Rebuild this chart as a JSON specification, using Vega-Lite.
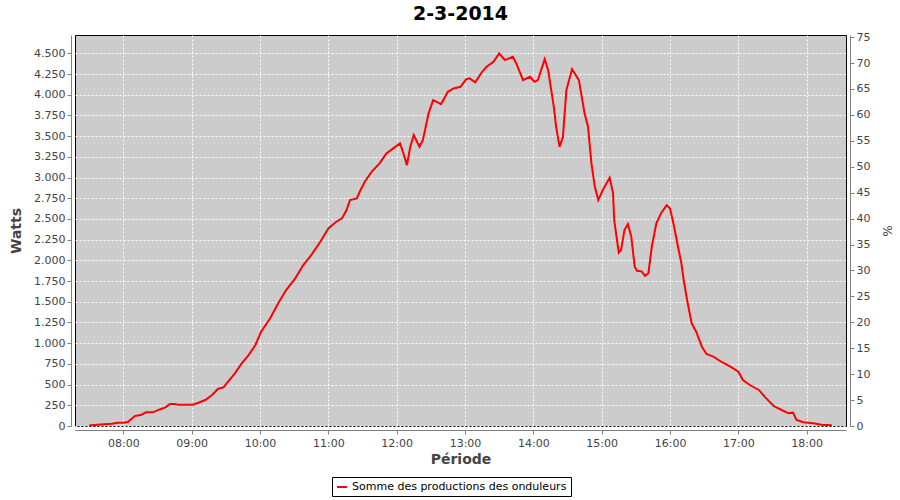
{
  "width": 771,
  "height": 391,
  "autosize": {"type": "none"},
  "padding": {"left": 75, "top": 35, "right": 54, "bottom": 74},
  "background": "white",
  "title": {"text": "2-3-2014", "font": "DejaVu Sans", "fontSize": 19, "fontWeight": "bold", "color": "black", "anchor": "middle", "offset": 7},
  "config": {
    "view": {"fill": "#cccccc", "stroke": "black", "strokeWidth": 1},
    "axis": {"labelFont": "DejaVu Sans", "labelFontSize": 11, "labelColor": "#444444", "titleFont": "DejaVu Sans", "titleColor": "#444444", "domainColor": "#808080", "tickColor": "#808080", "tickSize": 4, "gridColor": "white", "gridDash": [2, 2], "gridWidth": 1, "gridOpacity": 1}
  },
  "layer": [
    {
      "data": {"values": [
        {"t": "2014-03-02T07:30", "w": 5},
        {"t": "2014-03-02T07:37", "w": 15},
        {"t": "2014-03-02T07:50", "w": 28},
        {"t": "2014-03-02T07:55", "w": 40},
        {"t": "2014-03-02T08:00", "w": 40},
        {"t": "2014-03-02T08:04", "w": 48},
        {"t": "2014-03-02T08:10", "w": 120},
        {"t": "2014-03-02T08:16", "w": 136},
        {"t": "2014-03-02T08:20", "w": 165},
        {"t": "2014-03-02T08:26", "w": 165},
        {"t": "2014-03-02T08:32", "w": 200},
        {"t": "2014-03-02T08:37", "w": 225},
        {"t": "2014-03-02T08:41", "w": 265},
        {"t": "2014-03-02T08:45", "w": 265},
        {"t": "2014-03-02T08:48", "w": 257},
        {"t": "2014-03-02T09:01", "w": 257},
        {"t": "2014-03-02T09:06", "w": 281},
        {"t": "2014-03-02T09:12", "w": 314},
        {"t": "2014-03-02T09:18", "w": 374},
        {"t": "2014-03-02T09:23", "w": 447},
        {"t": "2014-03-02T09:28", "w": 467},
        {"t": "2014-03-02T09:32", "w": 535},
        {"t": "2014-03-02T09:38", "w": 636},
        {"t": "2014-03-02T09:44", "w": 757},
        {"t": "2014-03-02T09:50", "w": 856},
        {"t": "2014-03-02T09:56", "w": 978},
        {"t": "2014-03-02T10:01", "w": 1139},
        {"t": "2014-03-02T10:09", "w": 1300},
        {"t": "2014-03-02T10:16", "w": 1481},
        {"t": "2014-03-02T10:23", "w": 1641},
        {"t": "2014-03-02T10:31", "w": 1783},
        {"t": "2014-03-02T10:38", "w": 1943},
        {"t": "2014-03-02T10:45", "w": 2064},
        {"t": "2014-03-02T10:53", "w": 2224},
        {"t": "2014-03-02T11:00", "w": 2386},
        {"t": "2014-03-02T11:07", "w": 2466},
        {"t": "2014-03-02T11:12", "w": 2507},
        {"t": "2014-03-02T11:16", "w": 2607},
        {"t": "2014-03-02T11:19", "w": 2728},
        {"t": "2014-03-02T11:25", "w": 2748},
        {"t": "2014-03-02T11:28", "w": 2840},
        {"t": "2014-03-02T11:32", "w": 2949},
        {"t": "2014-03-02T11:38", "w": 3069},
        {"t": "2014-03-02T11:45", "w": 3171},
        {"t": "2014-03-02T11:51", "w": 3291},
        {"t": "2014-03-02T11:57", "w": 3352},
        {"t": "2014-03-02T12:03", "w": 3412},
        {"t": "2014-03-02T12:06", "w": 3291},
        {"t": "2014-03-02T12:09", "w": 3150},
        {"t": "2014-03-02T12:12", "w": 3371},
        {"t": "2014-03-02T12:15", "w": 3512},
        {"t": "2014-03-02T12:20", "w": 3371},
        {"t": "2014-03-02T12:23", "w": 3452},
        {"t": "2014-03-02T12:28", "w": 3774},
        {"t": "2014-03-02T12:32", "w": 3935},
        {"t": "2014-03-02T12:39", "w": 3887},
        {"t": "2014-03-02T12:45", "w": 4035},
        {"t": "2014-03-02T12:50", "w": 4076},
        {"t": "2014-03-02T12:56", "w": 4096},
        {"t": "2014-03-02T13:01", "w": 4185},
        {"t": "2014-03-02T13:04", "w": 4197},
        {"t": "2014-03-02T13:09", "w": 4149},
        {"t": "2014-03-02T13:15", "w": 4277},
        {"t": "2014-03-02T13:19", "w": 4337},
        {"t": "2014-03-02T13:25", "w": 4397},
        {"t": "2014-03-02T13:30", "w": 4498},
        {"t": "2014-03-02T13:35", "w": 4418},
        {"t": "2014-03-02T13:42", "w": 4458},
        {"t": "2014-03-02T13:45", "w": 4378},
        {"t": "2014-03-02T13:51", "w": 4176},
        {"t": "2014-03-02T13:57", "w": 4216},
        {"t": "2014-03-02T14:01", "w": 4156},
        {"t": "2014-03-02T14:04", "w": 4176},
        {"t": "2014-03-02T14:10", "w": 4430},
        {"t": "2014-03-02T14:13", "w": 4297},
        {"t": "2014-03-02T14:18", "w": 3854},
        {"t": "2014-03-02T14:20", "w": 3613},
        {"t": "2014-03-02T14:23", "w": 3371},
        {"t": "2014-03-02T14:26", "w": 3492},
        {"t": "2014-03-02T14:29", "w": 4056},
        {"t": "2014-03-02T14:34", "w": 4309},
        {"t": "2014-03-02T14:40", "w": 4176},
        {"t": "2014-03-02T14:45", "w": 3774},
        {"t": "2014-03-02T14:48", "w": 3613},
        {"t": "2014-03-02T14:51", "w": 3171},
        {"t": "2014-03-02T14:54", "w": 2888},
        {"t": "2014-03-02T14:57", "w": 2728},
        {"t": "2014-03-02T15:01", "w": 2849},
        {"t": "2014-03-02T15:07", "w": 2997},
        {"t": "2014-03-02T15:10", "w": 2809},
        {"t": "2014-03-02T15:11", "w": 2486},
        {"t": "2014-03-02T15:15", "w": 2092},
        {"t": "2014-03-02T15:17", "w": 2124},
        {"t": "2014-03-02T15:20", "w": 2366},
        {"t": "2014-03-02T15:23", "w": 2438},
        {"t": "2014-03-02T15:26", "w": 2285},
        {"t": "2014-03-02T15:29", "w": 1923},
        {"t": "2014-03-02T15:31", "w": 1874},
        {"t": "2014-03-02T15:35", "w": 1867},
        {"t": "2014-03-02T15:38", "w": 1814},
        {"t": "2014-03-02T15:41", "w": 1843},
        {"t": "2014-03-02T15:44", "w": 2164},
        {"t": "2014-03-02T15:48", "w": 2446},
        {"t": "2014-03-02T15:52", "w": 2567},
        {"t": "2014-03-02T15:57", "w": 2664},
        {"t": "2014-03-02T16:00", "w": 2627},
        {"t": "2014-03-02T16:03", "w": 2446},
        {"t": "2014-03-02T16:07", "w": 2164},
        {"t": "2014-03-02T16:10", "w": 1964},
        {"t": "2014-03-02T16:12", "w": 1762},
        {"t": "2014-03-02T16:15", "w": 1521},
        {"t": "2014-03-02T16:19", "w": 1240},
        {"t": "2014-03-02T16:23", "w": 1139},
        {"t": "2014-03-02T16:28", "w": 957},
        {"t": "2014-03-02T16:32", "w": 869},
        {"t": "2014-03-02T16:38", "w": 837},
        {"t": "2014-03-02T16:45", "w": 776},
        {"t": "2014-03-02T16:53", "w": 716},
        {"t": "2014-03-02T17:00", "w": 655},
        {"t": "2014-03-02T17:04", "w": 555},
        {"t": "2014-03-02T17:10", "w": 495},
        {"t": "2014-03-02T17:18", "w": 435},
        {"t": "2014-03-02T17:23", "w": 354},
        {"t": "2014-03-02T17:31", "w": 241},
        {"t": "2014-03-02T17:38", "w": 193},
        {"t": "2014-03-02T17:44", "w": 153},
        {"t": "2014-03-02T17:48", "w": 161},
        {"t": "2014-03-02T17:51", "w": 72},
        {"t": "2014-03-02T17:57", "w": 45},
        {"t": "2014-03-02T18:06", "w": 33},
        {"t": "2014-03-02T18:13", "w": 16},
        {"t": "2014-03-02T18:22", "w": 8}
      ]},
      "mark": {"type": "line", "strokeWidth": 2},
      "encoding": {
        "x": {
          "field": "t", "type": "temporal",
          "scale": {"domain": [{"year": 2014, "month": 3, "date": 2, "hours": 7, "minutes": 17, "seconds": 36}, {"year": 2014, "month": 3, "date": 2, "hours": 18, "minutes": 34, "seconds": 30}]},
          "axis": {"title": "Période", "titleFontSize": 14, "titleFontWeight": "bold", "format": "%H:%M", "offset": 4, "labelPadding": 3, "titlePadding": 4, "grid": true,
            "values": [
              {"year": 2014, "month": 3, "date": 2, "hours": 8},
              {"year": 2014, "month": 3, "date": 2, "hours": 9},
              {"year": 2014, "month": 3, "date": 2, "hours": 10},
              {"year": 2014, "month": 3, "date": 2, "hours": 11},
              {"year": 2014, "month": 3, "date": 2, "hours": 12},
              {"year": 2014, "month": 3, "date": 2, "hours": 13},
              {"year": 2014, "month": 3, "date": 2, "hours": 14},
              {"year": 2014, "month": 3, "date": 2, "hours": 15},
              {"year": 2014, "month": 3, "date": 2, "hours": 16},
              {"year": 2014, "month": 3, "date": 2, "hours": 17},
              {"year": 2014, "month": 3, "date": 2, "hours": 18}
            ]}
        },
        "y": {
          "field": "w", "type": "quantitative",
          "scale": {"domain": [0, 4721], "nice": false},
          "axis": {"title": "Watts", "titleFontSize": 14, "titleFontWeight": "bold", "labelExpr": "replace(format(datum.value, ','), ',', '.')", "values": [0, 250, 500, 750, 1000, 1250, 1500, 1750, 2000, 2250, 2500, 2750, 3000, 3250, 3500, 3750, 4000, 4250, 4500], "offset": 4, "labelPadding": 2, "titlePadding": 10, "grid": true}
        },
        "color": {
          "datum": "Somme des productions des onduleurs",
          "type": "nominal",
          "scale": {"range": ["#ff0000"]},
          "legend": {"title": null, "orient": "none", "legendX": 257, "legendY": 442, "direction": "horizontal", "symbolType": "stroke", "symbolStrokeWidth": 2, "labelFont": "DejaVu Sans", "labelFontSize": 11, "labelColor": "black", "labelLimit": 0, "strokeColor": "black", "padding": 4}
        }
      }
    },
    {
      "data": {"values": [{"p": 0}, {"p": 75}]},
      "mark": {"type": "rule", "opacity": 0},
      "encoding": {
        "y": {
          "field": "p", "type": "quantitative",
          "scale": {"domain": [0, 75.4], "nice": false},
          "axis": {"orient": "right", "title": "%", "titleFontSize": 12, "titleFontWeight": "normal", "values": [0, 5, 10, 15, 20, 25, 30, 35, 40, 45, 50, 55, 60, 65, 70, 75], "offset": 4, "labelPadding": 2, "titlePadding": 10, "grid": false}
        }
      }
    }
  ],
  "resolve": {"scale": {"y": "independent"}}
}
